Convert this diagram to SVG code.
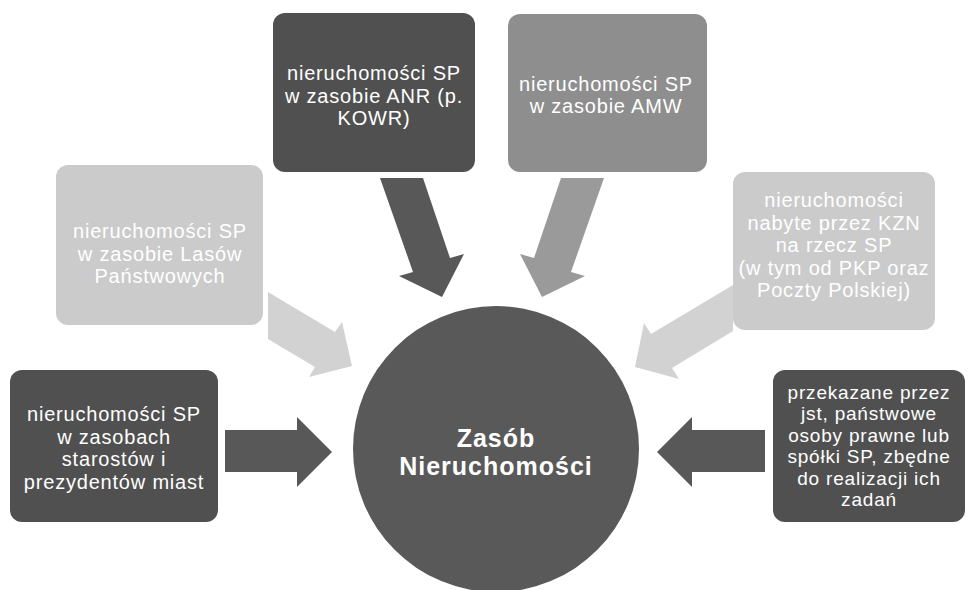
<svg xmlns="http://www.w3.org/2000/svg" width="968" height="590" viewBox="0 0 968 590">
<style>
.box text,.hub text{font-family:"Liberation Sans",Arial,sans-serif;fill:#ffffff;text-anchor:middle}
.box text{font-size:20px;letter-spacing:0.8px}
.box text.s{font-size:19px}
.hub text{font-size:25px;font-weight:bold;letter-spacing:1px}
.dark{fill:#505050}
.mid{fill:#8e8e8e}
.light{fill:#cbcbcb}
.adark{fill:#585858}
.amid{fill:#9a9a9a}
.alight{fill:#d2d2d2}
</style>
<rect width="968" height="590" fill="#ffffff"/>
<g id="connectors">
<polygon class="adark" points="380,178 423,178 450,258 464,254 442,297 399,276 413,272"/>
<polygon class="amid" points="604,178 561,178 534,258 520,254 542,297 585,276 571,272"/>
<polygon class="alight" points="268,292 335,332 342,322 352,366 309,377 315,367 268,339"/>
<polygon class="alight" points="733,285 651,334 644,323 635,367 679,379 672,368 733,331"/>
<polygon class="adark" points="225,430 297,430 297,417 332,452 297,487 297,472 225,472"/>
<polygon class="adark" points="765,430 692,430 692,417 657,452 692,487 692,472 765,472"/>
</g>
<g id="hub" class="hub">
<circle cx="496" cy="449" r="143" fill="#595959"/>
<text x="496" y="446.5">Zasób</text>
<text x="496" y="474.5">Nieruchomości</text>
</g>
<g id="anr" class="box">
<rect class="dark" x="273" y="13" width="202" height="159" rx="12"/>
<text x="374" y="80">nieruchomości SP</text>
<text x="374" y="102.5">w zasobie ANR (p.</text>
<text x="374" y="125">KOWR)</text>
</g>
<g id="amw" class="box">
<rect class="mid" x="508" y="14" width="199" height="158" rx="12"/>
<text x="606" y="90.75">nieruchomości SP</text>
<text x="606" y="113.25">w zasobie AMW</text>
</g>
<g id="lasy" class="box">
<rect class="light" x="56" y="165" width="207" height="160" rx="12"/>
<text x="160" y="238">nieruchomości SP</text>
<text x="160" y="260.5">w zasobie Lasów</text>
<text x="160" y="283">Państwowych</text>
</g>
<g id="kzn" class="box">
<rect class="light" x="733" y="172" width="202" height="158" rx="12"/>
<text x="834" y="207">nieruchomości</text>
<text x="834" y="229.5">nabyte przez KZN</text>
<text x="834" y="252">na rzecz SP</text>
<text x="834" y="274.5">(w tym od PKP oraz</text>
<text x="834" y="297">Poczty Polskiej)</text>
</g>
<g id="starostowie" class="box">
<rect class="dark" x="10" y="370" width="208" height="152" rx="12"/>
<text x="114" y="421.25">nieruchomości SP</text>
<text x="114" y="443.75">w zasobach</text>
<text x="114" y="466.25">starostów i</text>
<text x="114" y="488.75">prezydentów miast</text>
</g>
<g id="jst" class="box">
<rect class="dark" x="773" y="370" width="192" height="152" rx="12"/>
<text class="s" x="869" y="398.75">przekazane przez</text>
<text class="s" x="869" y="420.25">jst, państwowe</text>
<text class="s" x="869" y="441.75">osoby prawne lub</text>
<text class="s" x="869" y="463.25">spółki SP, zbędne</text>
<text class="s" x="869" y="484.75">do realizacji ich</text>
<text class="s" x="869" y="506.25">zadań</text>
</g>
</svg>
